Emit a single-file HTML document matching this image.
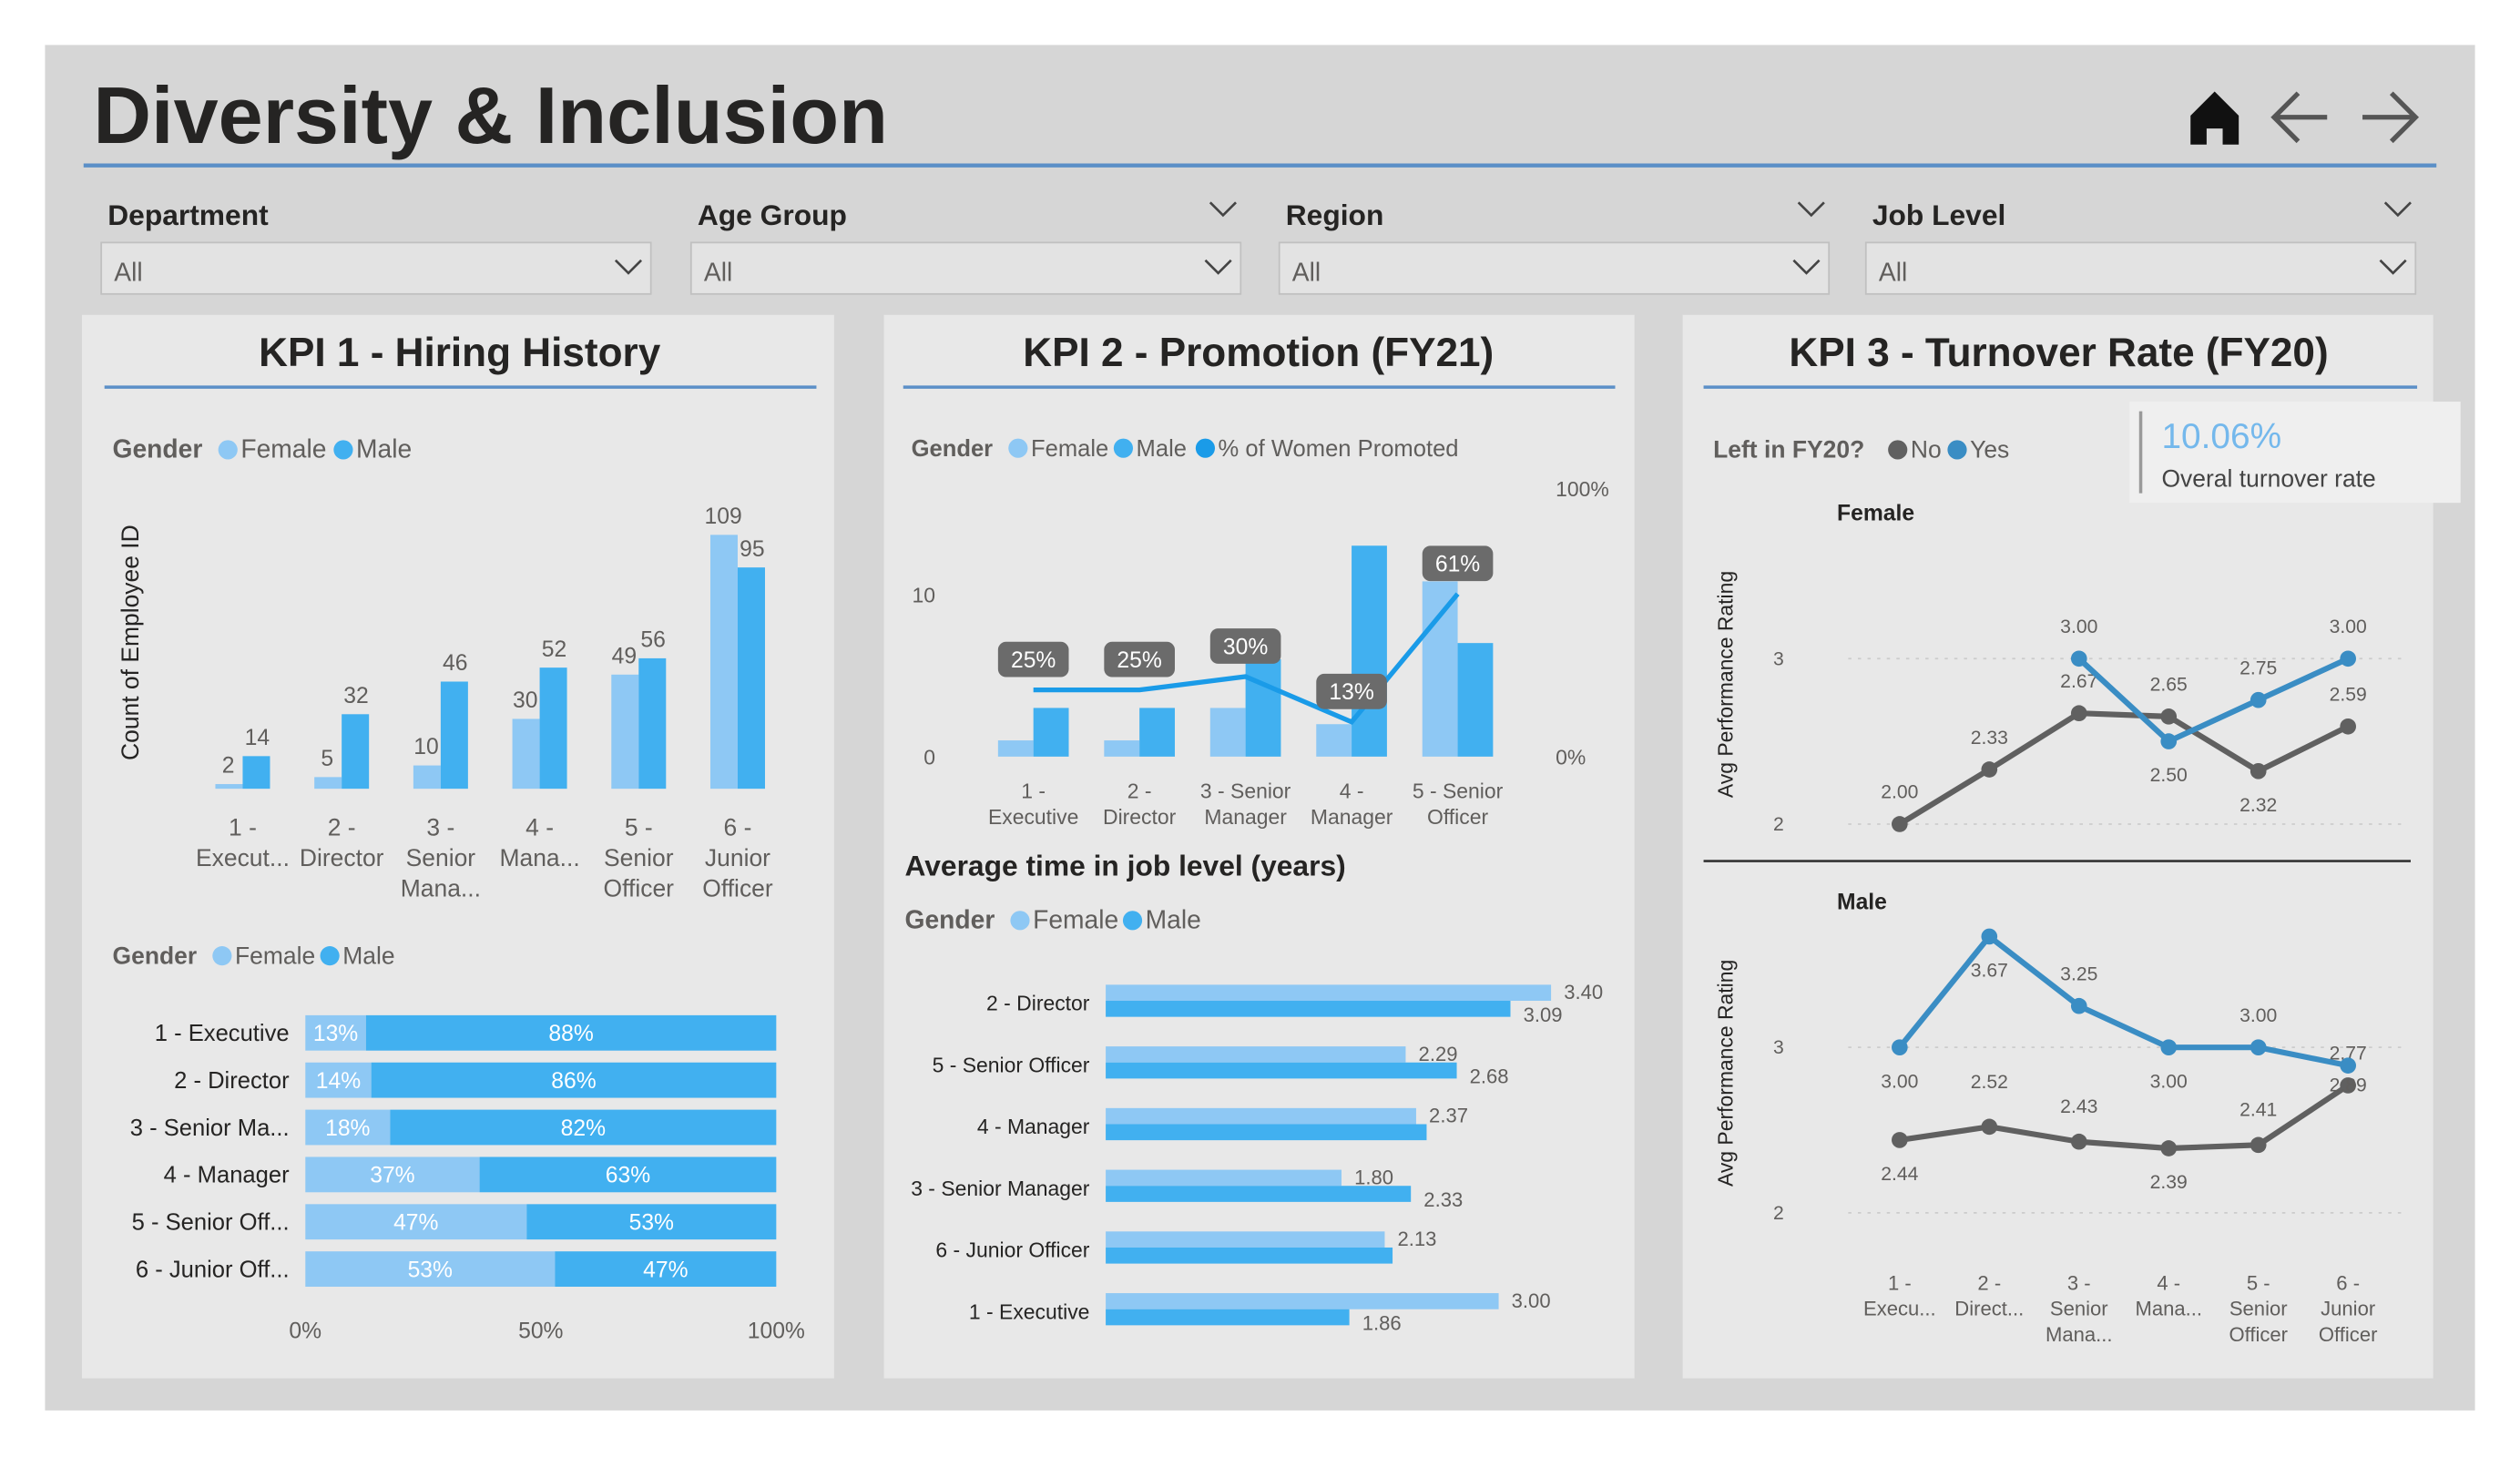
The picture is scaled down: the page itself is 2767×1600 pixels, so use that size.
<!DOCTYPE html>
<html><head><meta charset="utf-8"><style>
html,body{margin:0;padding:0;background:#fff;}
svg{display:block;font-family:"Liberation Sans",sans-serif;}
</style></head><body>
<svg id="s" width="2767" height="1600" viewBox="0 0 1568 907" preserveAspectRatio="none" xmlns="http://www.w3.org/2000/svg">
<rect x="0" y="0" width="1568" height="907" fill="#ffffff"/>
<rect x="28" y="28" width="1512" height="850" fill="#d6d6d6"/>
<text x="58" y="89" font-size="50" font-weight="bold" fill="#252423">Diversity &amp; Inclusion</text>
<line x1="52" y1="103" x2="1516" y2="103" stroke="#5b8fc7" stroke-width="2.5"/>
<g><path d="M1363 90 V72 L1378 57 L1393 72 V90 H1383 V80 H1373 V90 Z" fill="#111"/></g>
<g stroke="#555" stroke-width="3" fill="none"><path d="M1448 73 H1415 M1430 58 L1415 73 L1430 88"/></g>
<g stroke="#555" stroke-width="3" fill="none"><path d="M1470 73 H1503 M1488 58 L1503 73 L1488 88"/></g>
<rect x="51" y="196" width="468" height="662" fill="#e8e8e8"/>
<rect x="550" y="196" width="467" height="662" fill="#e8e8e8"/>
<rect x="1047" y="196" width="467" height="662" fill="#e8e8e8"/>
<text x="286" y="228" font-size="25" font-weight="bold" text-anchor="middle" fill="#252423">KPI 1 - Hiring History</text>
<text x="783" y="228" font-size="25" font-weight="bold" text-anchor="middle" fill="#252423">KPI 2 - Promotion (FY21)</text>
<text x="1281" y="228" font-size="25" font-weight="bold" text-anchor="middle" fill="#252423">KPI 3 - Turnover Rate (FY20)</text>
<line x1="65" y1="241" x2="508" y2="241" stroke="#5b8fc7" stroke-width="2"/>
<line x1="562" y1="241" x2="1005" y2="241" stroke="#5b8fc7" stroke-width="2"/>
<line x1="1060" y1="241" x2="1504" y2="241" stroke="#5b8fc7" stroke-width="2"/>
<g id="g"></g>
</svg>
<script>
var NS='http://www.w3.org/2000/svg';
var root=document.getElementById('g');
function mk(tag,a,parent){var e=document.createElementNS(NS,tag);for(var k in a)e.setAttribute(k,a[k]);(parent||root).appendChild(e);return e;}
function tx(x,y,s,size,fill,anchor,weight){var e=mk('text',{x:x,y:y,'font-size':size,fill:fill||'#605e5c','text-anchor':anchor||'start','font-weight':weight||'normal'});e.textContent=s;return e;}
var FEM='#8ec8f4',MAL='#41b0f0',GRAY='#606060',YES='#3a8dc4';

// slicers
var slNames=['Department','Age Group','Region','Job Level'];
var slX=[63,430,796,1161];
slNames.forEach(function(n,i){
  var x=slX[i];
  var t=tx(x+4,140,n,18,'#252423','start','bold');
  
  
  var b=mk('rect',{x:x,y:151,width:342,height:32,fill:'#e3e3e3',stroke:'#c0c0c0'});
  
  
  var a=tx(x+8,175,'All',16,'#605e5c');
  
  
  mk('path',{d:'M'+(x+320)+' 162 l8 8 l8 -8',stroke:'#444',fill:'none','stroke-width':1.5});
  if(i>0) mk('path',{d:'M'+(x+323)+' 126 l8 8 l8 -8',stroke:'#444',fill:'none','stroke-width':1.5});
});

function legend(x,y,title,items,size,cw){
  var t=tx(x,y,title,size||16,'#605e5c','start','bold');
  
  
  var cx=x+title.length*(cw||(size?size*0.58:9.3))+10;
  items.forEach(function(it){
    var c=mk('circle',{cx:cx+6,cy:y-5,r:6,fill:it[1]});
    
    
    tx(cx+14,y,it[0],size||16,'#605e5c');
    cx+=14+it[0].length*(size?size*0.5:8.3)+8;
  });
}

// ===== KPI1 column chart =====
var k1Cats=[['1 -','Execut...'],['2 -','Director'],['3 -','Senior','Mana...'],['4 -','Mana...'],['5 -','Senior','Officer'],['6 -','Junior','Officer']];
var k1Female=[2,5,10,30,49,109];
var k1Male=[14,32,46,52,56,95];
legend(70,285,'Gender',[['Female',FEM],['Male',MAL]]);
var t=tx(0,0,'Count of Employee ID',15,'#252423');
t.setAttribute('transform','translate(86,400) rotate(-90)');t.setAttribute('text-anchor','middle');


function k1x(i){return 151+i*61.6;}
function k1y(v){return 491-v*1.45;}
k1Cats.forEach(function(c,i){
  var x=k1x(i);
  var f=mk('rect',{x:x-17,y:k1y(k1Female[i]),width:17,height:491-k1y(k1Female[i]),fill:FEM});
  
  
  var m=mk('rect',{x:x,y:k1y(k1Male[i]),width:17,height:491-k1y(k1Male[i]),fill:MAL});
  
  
  tx(x-9,k1y(k1Female[i])-7,k1Female[i],14,'#605e5c','middle');
  tx(x+9,k1y(k1Male[i])-7,k1Male[i],14,'#605e5c','middle');
  c.forEach(function(s,j){tx(x,520+j*19,s,15,'#605e5c','middle');});
});

// ===== KPI1 100% bars =====
var k1bCats=['1 - Executive','2 - Director','3 - Senior Ma...','4 - Manager','5 - Senior Off...','6 - Junior Off...'];
var k1bFemale=[13,14,18,37,47,53];
var k1bMale=[88,86,82,63,53,47];
legend(70,600,'Gender',[['Female',FEM],['Male',MAL]],15);
function px(v){return 190+v*2.93;}
k1bCats.forEach(function(c,i){
  var y=643+i*29.4;
  tx(180,y+5,c,14.5,'#252423','end');
  var tot=k1bFemale[i]+k1bMale[i];
  var fw=k1bFemale[i]/tot*100;
  var f=mk('rect',{x:px(0),y:y-11,width:px(fw)-px(0),height:22,fill:FEM});
  
  
  var m=mk('rect',{x:px(fw),y:y-11,width:px(100)-px(fw),height:22,fill:MAL});
  
  
  tx((px(0)+px(fw))/2,y+5,k1bFemale[i]+'%',14,'#fff','middle');
  tx((px(fw)+px(100))/2,y+5,k1bMale[i]+'%',14,'#fff','middle');
});
var k1bTicks=['0%','50%','100%'];
k1bTicks.forEach(function(s,i){tx(px(i*50),833,s,14,'#605e5c','middle');});

// ===== KPI2 combo =====
var k2Cats=[['1 -','Executive'],['2 -','Director'],['3 - Senior','Manager'],['4 -','Manager'],['5 - Senior','Officer']];
var k2Female=[1,1,3,2,10.8];
var k2Male=[3,3,6,13,7];
var k2Pct=[25,25,30,13,61];
legend(567,284,'Gender',[['Female',FEM],['Male',MAL],['% of Women Promoted','#1a9be8']],14.5);
function k2x(i){return 643+i*66;}
function k2y(v){return 471-v*10.1;}
function k2p(v){return 471-v*1.66;}
tx(582,375,'10',13,'#605e5c','end');tx(582,476,'0',13,'#605e5c','end');
tx(968,309,'100%',13,'#605e5c');tx(968,476,'0%',13,'#605e5c');
var pts=[];
k2Cats.forEach(function(c,i){
  var x=k2x(i);
  var f=mk('rect',{x:x-22,y:k2y(k2Female[i]),width:22,height:471-k2y(k2Female[i]),fill:FEM});
  
  
  var m=mk('rect',{x:x,y:k2y(k2Male[i]),width:22,height:471-k2y(k2Male[i]),fill:MAL});
  
  
  c.forEach(function(s,j){tx(x,497+j*16,s,13,'#605e5c','middle');});
  pts.push(x+','+k2p(k2Pct[i]));
});
var ln=mk('polyline',{points:pts.join(' '),fill:'none',stroke:'#1a9be8','stroke-width':3});


k2Pct.forEach(function(v,i){
  var x=k2x(i),y=k2p(v)-19;
  var r=mk('rect',{x:x-22,y:y-11,width:44,height:22,rx:5,fill:'#6b6b6b'});
  
  
  tx(x,y+5,v+'%',14,'#fff','middle');
});

// ===== KPI2 avg time =====
tx(563,545,'Average time in job level (years)',18,'#252423','start','bold');
legend(563,578,'Gender',[['Female',FEM],['Male',MAL]],16);
var k2bCats=['2 - Director','5 - Senior Officer','4 - Manager','3 - Senior Manager','6 - Junior Officer','1 - Executive'];
var k2bFemale=[3.40,2.29,2.37,1.80,2.13,3.00];
var k2bMale=[3.09,2.68,2.45,2.33,2.19,1.86];
function hx(v){return 688+v*81.5;}
k2bCats.forEach(function(c,i){
  var y=624+i*38.4;
  tx(678,y+5,c,13,'#252423','end');
  var f=mk('rect',{x:hx(0),y:y-11,width:hx(k2bFemale[i])-hx(0),height:10,fill:FEM});
  
  
  var m=mk('rect',{x:hx(0),y:y-1,width:hx(k2bMale[i])-hx(0),height:10,fill:MAL});
  
  
  tx(hx(k2bFemale[i])+8,y-2,k2bFemale[i].toFixed(2),12.5,'#605e5c');
  if(i!==2&&i!==4) tx(hx(k2bMale[i])+8,y+12,k2bMale[i].toFixed(2),12.5,'#605e5c');
});

// ===== KPI3 =====
legend(1066,285,'Left in FY20?',[['No',GRAY],['Yes',YES]],15,7.6);
var card=mk('rect',{x:1325,y:250,width:206,height:63,fill:'#efefef'});


mk('line',{x1:1332,y1:256,x2:1332,y2:307,stroke:'#999','stroke-width':2});
tx(1345,279,'10.06%',22,'#74b8ec');
tx(1345,303,'Overal turnover rate',15,'#444');
var k3Cats=[['1 -','Execu...'],['2 -','Direct...'],['3 -','Senior','Mana...'],['4 -','Mana...'],['5 -','Senior','Officer'],['6 -','Junior','Officer']];
var femNo=[2.00,2.33,2.67,2.65,2.32,2.59];
var femYes=[null,null,3.00,2.50,2.75,3.00];
var maleNo=[2.44,2.52,2.43,2.39,2.41,2.77];
var maleYes=[3.00,3.67,3.25,3.00,3.00,2.89];
function k3x(i){return 1182+i*55.8;}
function drawPanel(title,top,no,yes,noOff,yesOff){
  function yy(v){return top-(v-3)*103;}
  tx(1143,top-86,title,14,'#252423','start','bold');
  var at=tx(0,0,'Avg Performance Rating',13,'#252423','middle');
  at.setAttribute('transform','translate(1078,'+(top+16)+') rotate(-90)');
  
  
  tx(1110,top+4,'3',12,'#605e5c','end');tx(1110,top+107,'2',12,'#605e5c','end');
  mk('line',{x1:1150,y1:top,x2:1495,y2:top,stroke:'#ccc','stroke-dasharray':'2 4'});
  mk('line',{x1:1150,y1:top+103,x2:1495,y2:top+103,stroke:'#ccc','stroke-dasharray':'2 4'});
  [[no,GRAY,noOff,'line-no'],[yes,YES,yesOff,'line-yes']].forEach(function(s){
    var p=[];
    s[0].forEach(function(v,i){if(v!==null)p.push(k3x(i)+','+yy(v));});
    var l=mk('polyline',{points:p.join(' '),fill:'none',stroke:s[1],'stroke-width':3.5});
    
    
    s[0].forEach(function(v,i){if(v===null)return;
      var c=mk('circle',{cx:k3x(i),cy:yy(v),r:5,fill:s[1]});
      
      
      tx(k3x(i),yy(v)+s[2][i],v.toFixed(2),12,'#605e5c','middle');
    });
  });
}
drawPanel('Female',410,femNo,femYes,[-16,-16,-16,-16,25,-16],[0,0,-16,25,-16,-16]);
mk('line',{x1:1060,y1:536,x2:1500,y2:536,stroke:'#333','stroke-width':1.5});
drawPanel('Male',652,maleNo,maleYes,[25,-24,-18,25,-18,-16],[25,25,-16,25,-16,16]);
k3Cats.forEach(function(c,i){c.forEach(function(s,j){tx(k3x(i),803+j*16,s,12.5,'#605e5c','middle');});});
</script>
</body></html>
